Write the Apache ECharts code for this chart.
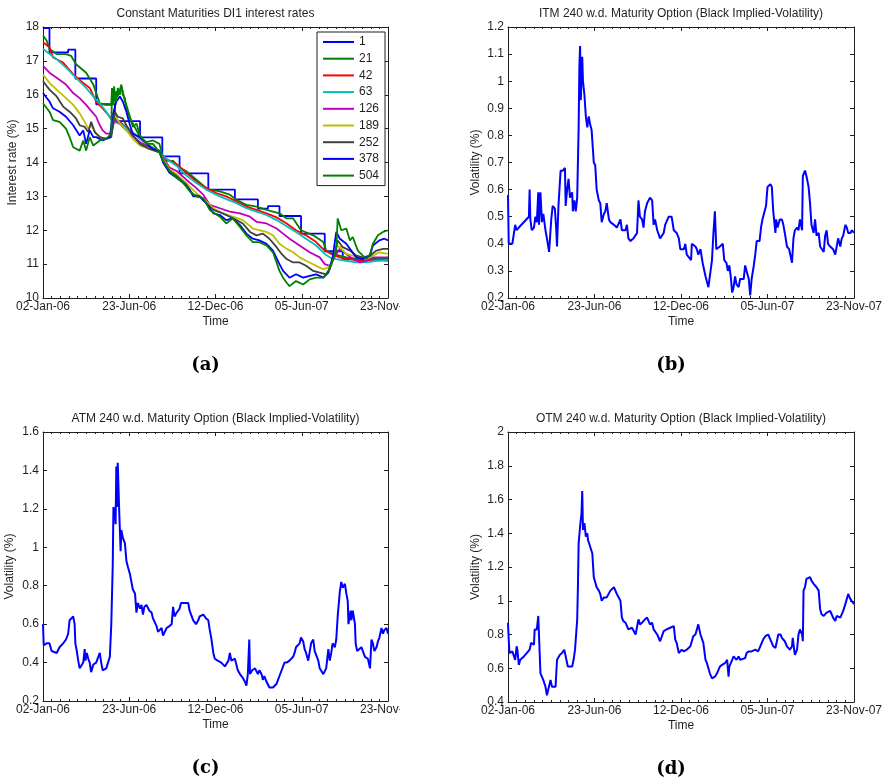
<!DOCTYPE html>
<html>
<head>
<meta charset="utf-8">
<script src="https://cdn.jsdelivr.net/npm/echarts@6.0.0/dist/echarts.min.js"></script>
<style>
  html, body { margin: 0; padding: 0; background: #fff; }
  #chart { width: 886px; height: 783px; }
</style>
</head>
<body>
<div id="chart"></div>
<script>
// Trading-day index (0 = 02-Jan-06) and the dates printed under the ticks
const tickDays = [0, 120, 240, 360, 480];
const tickDates = ['02-Jan-06', '23-Jun-06', '12-Dec-06', '05-Jun-07', '23-Nov-07'];

// Constant-maturity DI1 rates (%), [trading day, rate]
const maturities = ['1', '21', '42', '63', '126', '189', '252', '378', '504'];

const rate1 = [[0,17.97],[9,17.25],[35,17.33],[45,16.48],[74,15.72],[100,15.22],[135,14.74],[166,14.18],[190,13.68],[230,13.2],[267,12.91],[299,12.64],[313,12.71],[329,12.42],[359,11.9],[392,11.38],[417,11.15],[480,11.15]];

const rate21 = [[0,17.75],[5,17.6],[9,17.35],[19,17.2],[32,17.2],[39,17.15],[46,16.9],[60,16.65],[70,16.3],[74,16.05],[79,15.75],[88,15.7],[95,15.7],[96,16.2],[97,15.75],[99,16.25],[100,15.8],[102,16.1],[104,15.95],[107,16.15],[109,16.3],[111,16.0],[114,15.9],[116,15.6],[121,15.3],[125,15.15],[135,14.75],[144,14.6],[153,14.65],[162,14.55],[167,14.15],[172,14.05],[181,14.05],[190,13.85],[199,13.75],[213,13.5],[227,13.25],[232,13.2],[246,13.15],[260,13.05],[269,12.9],[283,12.75],[297,12.7],[311,12.6],[329,12.5],[339,12.35],[348,12.35],[359,12.0],[376,11.85],[390,11.65],[394,11.4],[403,11.3],[422,11.2],[441,11.15],[459,11.15],[480,11.15]];

const rate42 = [[0,17.55],[9,17.4],[14,17.1],[28,16.95],[42,16.6],[56,16.35],[65,16.2],[74,15.8],[83,15.6],[93,15.35],[100,15.25],[107,15.2],[121,14.95],[135,14.7],[148,14.5],[162,14.3],[172,14.1],[186,13.95],[199,13.7],[213,13.45],[227,13.25],[241,13.1],[255,13.0],[269,12.85],[283,12.7],[297,12.6],[311,12.5],[325,12.38],[339,12.2],[352,12.0],[366,11.85],[380,11.65],[392,11.4],[401,11.3],[413,11.2],[427,11.15],[441,11.1],[455,11.1],[468,11.12],[480,11.1]];

const rate63 = [[0,17.35],[19,17.05],[32,16.8],[46,16.5],[60,16.2],[74,15.85],[79,15.75],[88,15.5],[97,15.2],[107,15.15],[121,14.95],[135,14.7],[148,14.5],[162,14.3],[172,14.1],[186,13.9],[199,13.62],[213,13.4],[227,13.2],[241,13.05],[255,12.92],[269,12.8],[283,12.65],[297,12.55],[311,12.45],[325,12.3],[339,12.12],[352,11.95],[366,11.75],[380,11.55],[392,11.3],[399,11.2],[408,11.15],[422,11.1],[436,11.05],[450,11.05],[464,11.1],[480,11.12]];

const rate126 = [[0,16.85],[9,16.65],[19,16.5],[32,16.3],[42,16.05],[51,15.9],[60,15.7],[70,15.45],[74,15.35],[79,15.1],[83,14.95],[88,14.85],[95,14.85],[100,15.3],[104,15.2],[111,15.05],[121,14.85],[135,14.6],[148,14.45],[162,14.3],[167,14.15],[176,13.85],[186,13.75],[199,13.5],[213,13.25],[223,13.05],[232,12.75],[246,12.65],[260,12.55],[274,12.5],[288,12.4],[297,12.25],[311,12.2],[325,12.05],[334,11.9],[343,11.75],[357,11.55],[371,11.35],[385,11.2],[392,11.0],[399,10.95],[408,11.3],[413,11.45],[422,11.3],[431,11.15],[441,11.05],[450,11.1],[459,11.2],[468,11.2],[480,11.2]];

const rate189 = [[0,16.6],[9,16.35],[19,16.15],[32,15.9],[42,15.7],[51,15.45],[58,15.2],[63,15.0],[67,15.1],[74,14.85],[83,14.7],[93,14.75],[100,15.4],[107,15.15],[116,14.95],[125,14.7],[135,14.5],[148,14.4],[162,14.3],[167,14.1],[176,13.8],[186,13.65],[199,13.4],[213,13.1],[227,12.85],[237,12.65],[250,12.5],[264,12.4],[278,12.3],[292,12.05],[301,12.0],[311,11.95],[320,11.85],[329,11.6],[339,11.45],[348,11.35],[357,11.2],[366,11.1],[380,10.95],[390,10.85],[397,10.9],[403,11.1],[408,11.55],[413,11.5],[422,11.3],[431,11.25],[441,11.2],[450,11.15],[459,11.25],[468,11.35],[480,11.3]];

const rate252 = [[0,16.4],[9,16.15],[19,15.95],[28,15.65],[37,15.5],[46,15.3],[51,15.1],[58,15.05],[63,14.9],[67,15.2],[72,14.9],[79,14.75],[88,14.7],[95,14.75],[100,15.5],[104,15.35],[111,15.3],[116,15.1],[125,14.8],[135,14.55],[148,14.4],[162,14.3],[167,14.05],[176,13.75],[186,13.6],[199,13.35],[209,13.05],[218,13.0],[227,12.8],[237,12.6],[250,12.5],[260,12.4],[269,12.3],[278,12.2],[288,11.95],[297,11.85],[306,11.9],[315,11.75],[325,11.5],[332,11.3],[339,11.15],[348,11.05],[357,11.05],[366,10.95],[376,10.8],[385,10.75],[394,10.7],[399,10.85],[406,11.3],[410,11.7],[417,11.5],[427,11.4],[436,11.25],[445,11.2],[455,11.25],[464,11.4],[473,11.45],[480,11.45]];

const rate378 = [[0,16.05],[9,15.8],[14,15.6],[23,15.5],[32,15.35],[42,15.1],[51,14.8],[56,14.95],[60,14.55],[65,14.95],[70,14.75],[74,14.75],[83,14.65],[93,14.75],[97,15.4],[102,15.8],[107,15.95],[111,15.8],[116,15.5],[121,15.1],[125,14.85],[135,14.75],[144,14.55],[153,14.4],[162,14.35],[167,14.0],[176,13.7],[186,13.55],[195,13.4],[204,13.2],[209,13.0],[218,13.0],[227,12.8],[237,12.5],[246,12.45],[255,12.3],[264,12.35],[274,12.15],[283,11.9],[292,11.75],[301,11.7],[311,11.6],[320,11.4],[329,11.0],[334,10.8],[343,10.6],[352,10.7],[362,10.6],[371,10.65],[380,10.7],[390,10.6],[397,10.75],[403,11.2],[408,11.95],[413,11.75],[422,11.6],[427,11.45],[436,11.2],[445,11.15],[455,11.25],[459,11.55],[468,11.7],[475,11.75],[480,11.7]];

const rate504 = [[0,15.75],[9,15.5],[14,15.25],[23,15.2],[32,15.0],[37,14.75],[42,14.45],[51,14.35],[56,14.65],[60,14.35],[65,14.75],[70,14.5],[79,14.65],[88,14.7],[95,14.85],[96,16.2],[98,15.7],[100,16.1],[102,15.8],[104,16.2],[107,16.0],[109,16.25],[111,16.1],[114,15.8],[116,15.7],[121,15.35],[125,15.05],[130,15.15],[135,14.8],[144,14.55],[153,14.55],[162,14.3],[167,14.05],[176,13.75],[186,13.55],[195,13.4],[204,13.15],[213,13.0],[223,12.95],[232,12.6],[246,12.4],[255,12.2],[264,12.35],[274,12.1],[283,11.85],[292,11.65],[301,11.65],[311,11.55],[320,11.35],[329,10.8],[334,10.6],[339,10.45],[343,10.35],[352,10.5],[362,10.4],[371,10.55],[380,10.6],[390,10.6],[397,10.8],[401,11.0],[408,11.4],[410,12.35],[415,12.0],[422,12.05],[427,11.7],[431,11.8],[438,11.4],[445,11.25],[450,11.15],[455,11.3],[459,11.6],[466,11.85],[473,11.95],[480,12.0]];

// Black implied volatilities of the 240 w.d. options, [trading day, vol]
const itmVol = [[0,0.58],[1,0.40],[6,0.40],[8,0.40],[10,0.47],[12,0.45],[15,0.46],[29,0.50],[30,0.60],[31,0.49],[33,0.45],[36,0.46],[38,0.50],[40,0.48],[42,0.59],[43,0.47],[45,0.59],[47,0.48],[49,0.51],[52,0.45],[54,0.42],[57,0.37],[60,0.49],[62,0.54],[65,0.53],[67,0.45],[68,0.39],[70,0.54],[73,0.67],[76,0.67],[79,0.68],[80,0.54],[82,0.60],[84,0.64],[86,0.57],[89,0.59],[90,0.52],[92,0.56],[94,0.52],[96,0.57],[97,0.57],[98,0.83],[99,1.05],[100,1.13],[101,0.93],[103,1.09],[104,1.00],[106,0.95],[108,0.87],[110,0.83],[112,0.87],[114,0.84],[116,0.82],[119,0.70],[121,0.69],[123,0.60],[126,0.56],[128,0.55],[130,0.48],[133,0.51],[135,0.52],[137,0.55],[140,0.49],[142,0.48],[147,0.47],[151,0.46],[156,0.49],[158,0.45],[163,0.45],[165,0.47],[167,0.42],[170,0.41],[174,0.42],[179,0.44],[181,0.56],[183,0.50],[186,0.49],[188,0.46],[190,0.52],[193,0.55],[197,0.57],[200,0.56],[202,0.47],[204,0.49],[207,0.45],[211,0.42],[216,0.44],[218,0.47],[223,0.50],[227,0.50],[230,0.45],[234,0.44],[237,0.42],[239,0.38],[244,0.38],[246,0.40],[248,0.36],[250,0.36],[254,0.34],[255,0.40],[260,0.39],[262,0.38],[264,0.36],[267,0.38],[270,0.33],[274,0.28],[276,0.26],[278,0.24],[280,0.28],[283,0.34],[285,0.44],[287,0.52],[289,0.38],[291,0.38],[294,0.39],[298,0.40],[300,0.34],[303,0.33],[305,0.30],[307,0.32],[309,0.28],[311,0.22],[313,0.24],[315,0.28],[317,0.25],[320,0.24],[322,0.27],[327,0.27],[329,0.32],[331,0.30],[334,0.27],[336,0.21],[338,0.27],[341,0.32],[343,0.36],[345,0.41],[349,0.41],[351,0.46],[353,0.49],[355,0.51],[358,0.54],[360,0.61],[364,0.62],[366,0.61],[368,0.52],[371,0.44],[372,0.49],[374,0.46],[377,0.49],[380,0.49],[382,0.47],[384,0.44],[387,0.39],[390,0.38],[394,0.33],[396,0.42],[398,0.45],[401,0.46],[403,0.45],[405,0.49],[408,0.45],[409,0.65],[412,0.67],[414,0.65],[417,0.61],[419,0.55],[421,0.47],[424,0.44],[426,0.49],[428,0.43],[431,0.44],[433,0.39],[435,0.39],[438,0.37],[440,0.43],[442,0.45],[444,0.40],[447,0.39],[451,0.38],[454,0.36],[456,0.39],[458,0.42],[461,0.39],[463,0.42],[465,0.43],[468,0.47],[470,0.46],[472,0.44],[475,0.44],[477,0.45],[480,0.44]];

const atmVol = [[0,0.60],[1,0.49],[5,0.50],[9,0.50],[12,0.46],[14,0.45],[19,0.45],[23,0.48],[28,0.50],[32,0.52],[35,0.55],[37,0.62],[42,0.64],[43,0.65],[44,0.60],[45,0.50],[47,0.46],[49,0.41],[51,0.37],[53,0.37],[56,0.40],[58,0.47],[59,0.41],[61,0.45],[63,0.42],[65,0.40],[67,0.35],[70,0.39],[74,0.40],[79,0.45],[81,0.40],[83,0.36],[88,0.37],[93,0.43],[95,0.60],[97,0.90],[98,1.21],[100,1.18],[101,1.12],[102,1.42],[103,1.21],[104,1.44],[106,1.19],[108,0.98],[109,1.09],[111,1.05],[114,1.02],[116,0.93],[118,0.90],[121,0.86],[123,0.82],[125,0.78],[128,0.76],[130,0.66],[132,0.71],[135,0.68],[137,0.70],[139,0.65],[141,0.69],[144,0.70],[148,0.67],[151,0.66],[153,0.63],[155,0.62],[158,0.59],[160,0.56],[162,0.57],[165,0.58],[167,0.54],[169,0.55],[172,0.58],[176,0.59],[179,0.60],[181,0.69],[183,0.64],[186,0.66],[190,0.68],[192,0.71],[197,0.71],[202,0.71],[204,0.67],[206,0.66],[209,0.62],[211,0.61],[213,0.60],[216,0.62],[218,0.64],[223,0.65],[227,0.63],[230,0.62],[232,0.57],[234,0.53],[237,0.45],[239,0.42],[243,0.41],[248,0.40],[253,0.38],[258,0.41],[260,0.45],[262,0.41],[267,0.42],[269,0.41],[271,0.36],[274,0.34],[278,0.32],[281,0.30],[283,0.28],[285,0.34],[287,0.52],[288,0.34],[291,0.36],[295,0.37],[299,0.34],[301,0.36],[304,0.34],[306,0.31],[308,0.33],[311,0.30],[313,0.31],[315,0.27],[320,0.27],[322,0.27],[325,0.29],[329,0.33],[332,0.36],[334,0.37],[336,0.40],[339,0.40],[343,0.41],[348,0.43],[350,0.45],[352,0.48],[357,0.50],[359,0.53],[362,0.51],[364,0.47],[366,0.45],[369,0.41],[371,0.40],[373,0.50],[376,0.52],[378,0.46],[380,0.45],[383,0.41],[385,0.37],[387,0.36],[390,0.34],[392,0.35],[394,0.37],[397,0.47],[399,0.41],[401,0.45],[403,0.50],[406,0.48],[408,0.52],[410,0.64],[413,0.77],[415,0.82],[417,0.79],[420,0.81],[422,0.76],[424,0.72],[425,0.60],[428,0.67],[429,0.62],[431,0.67],[434,0.60],[435,0.50],[437,0.46],[439,0.45],[443,0.48],[445,0.46],[448,0.43],[450,0.44],[452,0.42],[455,0.37],[457,0.52],[459,0.50],[461,0.46],[464,0.48],[466,0.51],[468,0.53],[471,0.58],[473,0.55],[475,0.57],[478,0.58],[480,0.55]];

const otmVol = [[0,0.87],[1,0.77],[2,0.69],[6,0.70],[8,0.71],[10,0.65],[12,0.73],[13,0.71],[15,0.62],[17,0.65],[22,0.67],[26,0.69],[30,0.71],[32,0.75],[36,0.74],[37,0.83],[40,0.83],[42,0.91],[44,0.90],[45,0.57],[47,0.55],[49,0.53],[52,0.49],[54,0.44],[56,0.45],[59,0.53],[61,0.49],[63,0.49],[66,0.49],[68,0.65],[70,0.66],[72,0.68],[75,0.69],[78,0.71],[79,0.72],[81,0.65],[83,0.61],[85,0.60],[89,0.61],[91,0.65],[93,0.71],[96,0.89],[97,1.08],[98,1.34],[100,1.44],[102,1.52],[103,1.65],[104,1.42],[106,1.46],[108,1.38],[110,1.40],[111,1.36],[114,1.32],[117,1.28],[119,1.14],[121,1.14],[123,1.08],[126,1.06],[128,1.04],[130,1.00],[133,1.02],[137,1.02],[142,1.06],[147,1.08],[149,1.06],[151,1.04],[156,1.00],[158,0.90],[160,0.88],[163,0.87],[167,0.83],[172,0.84],[174,0.84],[177,0.80],[179,0.80],[181,0.89],[183,0.86],[186,0.87],[188,0.88],[190,0.89],[193,0.90],[195,0.89],[197,0.86],[200,0.87],[202,0.83],[204,0.82],[207,0.80],[209,0.79],[211,0.76],[213,0.75],[216,0.82],[220,0.83],[225,0.84],[230,0.85],[232,0.77],[234,0.75],[237,0.69],[239,0.69],[241,0.71],[244,0.70],[248,0.71],[253,0.73],[255,0.76],[257,0.79],[260,0.80],[262,0.83],[264,0.86],[267,0.80],[269,0.79],[271,0.75],[274,0.65],[276,0.63],[278,0.60],[280,0.57],[283,0.54],[285,0.53],[287,0.55],[290,0.57],[292,0.59],[294,0.61],[297,0.62],[301,0.63],[304,0.65],[306,0.55],[307,0.61],[311,0.65],[313,0.67],[315,0.68],[317,0.65],[320,0.67],[322,0.65],[324,0.66],[329,0.66],[331,0.69],[334,0.70],[338,0.70],[343,0.71],[347,0.70],[350,0.73],[352,0.75],[354,0.77],[357,0.79],[359,0.80],[361,0.80],[364,0.77],[366,0.78],[368,0.73],[371,0.72],[373,0.76],[375,0.80],[378,0.80],[380,0.78],[382,0.79],[384,0.76],[387,0.73],[389,0.72],[391,0.71],[394,0.73],[395,0.78],[397,0.71],[398,0.68],[401,0.71],[403,0.80],[405,0.83],[408,0.80],[409,0.76],[410,1.06],[412,1.08],[414,1.13],[419,1.14],[421,1.12],[424,1.10],[426,1.11],[428,1.08],[431,1.06],[433,0.95],[435,0.92],[438,0.91],[440,0.92],[442,0.93],[444,0.92],[447,0.94],[449,0.92],[451,0.90],[454,0.88],[456,0.91],[458,0.90],[461,0.90],[463,0.91],[465,0.94],[468,0.98],[470,0.98],[472,1.04],[475,1.01],[477,1.00],[480,0.98]];

// ---- styling ----
const FONT = '"Liberation Sans", Arial, Helvetica, sans-serif';
const INK = '#1f1f1f';
const rateSeries = [rate1, rate21, rate42, rate63, rate126, rate189, rate252, rate378, rate504];
const rateColors = ['#0000ff', '#008000', '#ff0000', '#00bfbf', '#bf00bf', '#bfbf00', '#404040', '#0000ff', '#008000'];

const panels = [
  { grid: { left: 43, top: 27, width: 345, height: 271 }, min: 10, max: 18, step: 1, yName: 'Interest rate (%)', nameGap: 24,
    title: 'Constant Maturities DI1 interest rates', tag: '(a)' },
  { grid: { left: 508, top: 27, width: 346, height: 271 }, min: 0.2, max: 1.2, step: 0.1, yName: 'Volatility (%)', nameGap: 26,
    title: 'ITM 240 w.d. Maturity Option (Black Implied-Volatility)', tag: '(b)' },
  { grid: { left: 43, top: 432, width: 345, height: 269 }, min: 0.2, max: 1.6, step: 0.2, yName: 'Volatility (%)', nameGap: 27,
    title: 'ATM 240 w.d. Maturity Option (Black Implied-Volatility)', tag: '(c)' },
  { grid: { left: 508, top: 432, width: 346, height: 270 }, min: 0.4, max: 2, step: 0.2, yName: 'Volatility (%)', nameGap: 26,
    title: 'OTM 240 w.d. Maturity Option (Black Implied-Volatility)', tag: '(d)' }
];

const lineCol = { color: INK, width: 1 };
const labelStyle = { fontFamily: FONT, fontSize: 12, color: INK };

function dateLabel(v) {
  const i = tickDays.indexOf(Math.round(v));
  return i >= 0 ? tickDates[i] : '';
}

const grid = [], xAxis = [], yAxis = [], title = [];
panels.forEach((p, i) => {
  grid.push(Object.assign({ containLabel: false }, p.grid));
  const xBase = {
    type: 'value', gridIndex: i, min: tickDays[0], max: tickDays[tickDays.length - 1],
    interval: tickDays[1] - tickDays[0],
    axisLine: { show: true, onZero: false, lineStyle: lineCol },
    axisTick: { show: true, inside: true, length: 4, lineStyle: lineCol },
    minorTick: { show: true, splitNumber: 10, length: 2, lineStyle: lineCol },
    splitLine: { show: false }
  };
  xAxis.push(Object.assign({}, xBase, {
    position: 'bottom',
    axisLabel: Object.assign({ margin: 3, formatter: dateLabel, showMinLabel: true, showMaxLabel: true }, labelStyle),
    name: 'Time', nameLocation: 'middle', nameGap: 18, nameTextStyle: labelStyle
  }));
  xAxis.push(Object.assign({}, xBase, { position: 'top', axisLabel: { show: false } }));

  const yBase = {
    type: 'value', gridIndex: i, min: p.min, max: p.max, interval: p.step,
    axisLine: { show: true, onZero: false, lineStyle: lineCol },
    axisTick: { show: true, inside: true, length: 4, lineStyle: lineCol },
    splitLine: { show: false }
  };
  yAxis.push(Object.assign({}, yBase, {
    position: 'left',
    axisLabel: Object.assign({ margin: 4, showMinLabel: true, showMaxLabel: true }, labelStyle),
    name: p.yName, nameLocation: 'middle', nameGap: p.nameGap, nameTextStyle: labelStyle
  }));
  yAxis.push(Object.assign({}, yBase, { position: 'right', axisLabel: { show: false } }));

  const cx = p.grid.left + p.grid.width / 2;
  title.push({
    text: p.title, left: cx, top: p.grid.top - 19, textAlign: 'center', padding: 0,
    textStyle: { fontFamily: FONT, fontSize: 12, fontWeight: 'normal', color: INK }
  });
  title.push({
    text: p.tag, left: cx - 10, top: p.grid.top + p.grid.height + 58, textAlign: 'center', padding: 0,
    textStyle: { fontFamily: '"DejaVu Serif", "Liberation Serif", serif', fontSize: 18, fontWeight: 'bold', color: '#000' }
  });
});

const series = [];
rateSeries.forEach((d, k) => {
  series.push({
    name: maturities[k], type: 'line', xAxisIndex: 0, yAxisIndex: 0,
    data: d, symbol: 'none', step: k === 0 ? 'end' : false,
    color: rateColors[k], lineStyle: { width: 1.8, color: rateColors[k] }
  });
});
[itmVol, atmVol, otmVol].forEach((d, k) => {
  series.push({
    name: ['ITM', 'ATM', 'OTM'][k], type: 'line', xAxisIndex: 2 * (k + 1), yAxisIndex: 2 * (k + 1),
    data: d, symbol: 'none', color: '#0000ff', lineStyle: { width: 2, color: '#0000ff' }
  });
});

const chart = echarts.init(document.getElementById('chart'), null, { renderer: 'canvas' });
chart.setOption({
  animation: false,
  backgroundColor: '#ffffff',
  title, grid, xAxis, yAxis, series,
  legend: {
    data: maturities, orient: 'vertical', left: 317, top: 32,
    backgroundColor: '#ffffff', borderColor: INK, borderWidth: 1, borderRadius: 0,
    padding: [4, 6, 4, 6], itemWidth: 31, itemHeight: 12, itemGap: 4.7,
    icon: 'path://M0,0H31V2H0Z', selectedMode: false,
    textStyle: { fontFamily: FONT, fontSize: 12, color: INK }
  },
  graphic: [
    // each subplot was cropped at its own edge: the last date label is cut off there
    { type: 'rect', left: 400, top: 300, z: 100, shape: { width: 70, height: 18 }, style: { fill: '#ffffff' } },
    { type: 'rect', left: 400, top: 703, z: 100, shape: { width: 70, height: 18 }, style: { fill: '#ffffff' } }
  ]
});
</script>
</body>
</html>
